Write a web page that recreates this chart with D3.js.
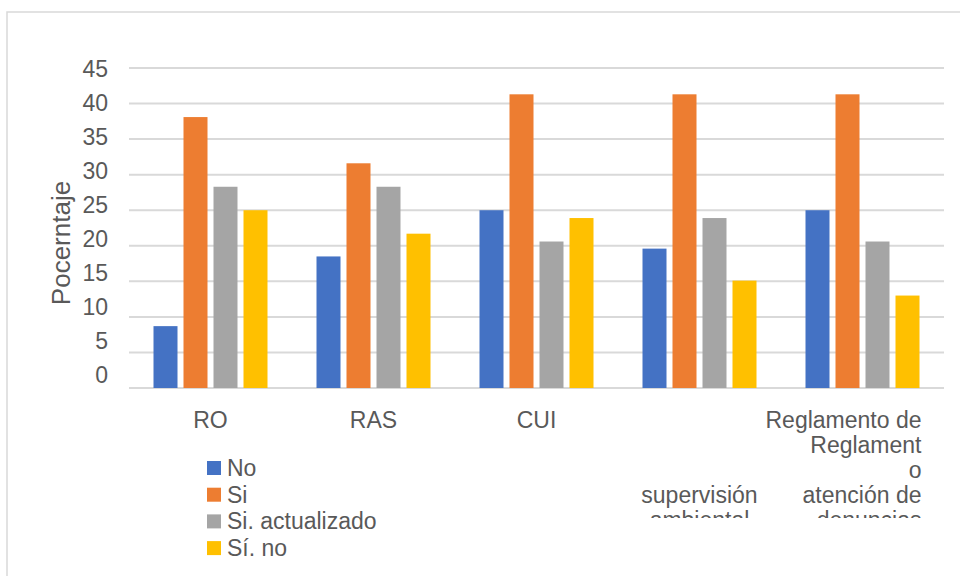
<!DOCTYPE html>
<html>
<head>
<meta charset="utf-8">
<script src="https://cdn.jsdelivr.net/npm/d3@7"></script>
<style>
  body { margin: 0; background: #fff; }
  text { font-family: "Liberation Sans", Arial, sans-serif; fill: #595959; }
</style>
</head>
<body>
<svg id="chart" width="960" height="576"></svg>
<script>
// data
const categories = ["RO", "RAS", "CUI", "supervisión ambiental", "Reglamento de atención de denuncias"];
const categoryLines = [
  ["RO"],
  ["RAS"],
  ["CUI"],
  ["", "", "", "supervisión", "ambiental"],
  ["Reglamento de", "Reglament", "o", "atención de", "denuncias"]
];
const seriesNames = ["No", "Si", "Si. actualizado", "Sí. no"];
const seriesNo = [8.7, 18.5, 25, 19.6, 25];
const seriesSi = [38.1, 31.6, 41.3, 41.3, 41.3];
const seriesActualizado = [28.3, 28.3, 20.6, 23.9, 20.6];
const seriesSiNo = [25, 21.7, 23.9, 15.1, 13];
const yTicks = [0, 5, 10, 15, 20, 25, 30, 35, 40, 45];
const colors = ["#4472C4", "#ED7D31", "#A5A5A5", "#FFC000"];

const values = [seriesNo, seriesSi, seriesActualizado, seriesSiNo];
const rows = categories.map((c, i) => ({
  cat: c,
  vals: seriesNames.map((s, j) => ({ key: s, value: values[j][i] }))
}));

const svg = d3.select("#chart");

// card border
svg.append("rect")
  .attr("x", 7).attr("y", 12)
  .attr("width", 980).attr("height", 600)
  .attr("fill", "none")
  .attr("stroke", "#d9d9d9")
  .attr("stroke-width", 1.5);

const x0 = d3.scaleBand().domain(categories).range([129, 944]).padding(0);
const x1 = d3.scaleBand().domain(seriesNames)
  .range([24.5, x0.bandwidth() - 24.5])
  .paddingInner(0.2);
const y = d3.scaleLinear().domain([0, 45]).range([388, 68]);
// tick labels sit slightly tighter than the gridlines in the original
const yLab = d3.scaleLinear().domain([0, 45]).range([375, 69]);

// gridlines
svg.append("g")
  .selectAll("line")
  .data(yTicks)
  .join("line")
  .attr("x1", 129).attr("x2", 944)
  .attr("y1", d => y(d)).attr("y2", d => y(d))
  .attr("stroke", "#d9d9d9")
  .attr("stroke-width", 2);

// y labels
const yAxis = svg.append("g")
  .attr("transform", "translate(110,0)")
  .call(d3.axisLeft(yLab).tickValues(yTicks).tickSize(0).tickPadding(2));
yAxis.select(".domain").remove();
yAxis.selectAll("text")
  .attr("font-size", 23)
  .attr("fill", "#595959")
  .style("font-family", "'Liberation Sans', Arial, sans-serif");

svg.append("text")
  .attr("transform", "translate(70,243) rotate(-90)")
  .attr("text-anchor", "middle")
  .attr("font-size", 26)
  .text("Pocerntaje");

// bars
const group = svg.append("g")
  .selectAll("g")
  .data(rows)
  .join("g")
  .attr("transform", d => `translate(${x0(d.cat)},0)`);

group.selectAll("rect")
  .data(d => d.vals)
  .join("rect")
  .attr("x", d => x1(d.key))
  .attr("width", x1.bandwidth())
  .attr("y", d => y(d.value))
  .attr("height", d => y(0) - y(d.value))
  .attr("fill", (d, i) => colors[i]);

// category labels, clipped at the bottom like the original
svg.append("clipPath").attr("id", "labclip")
  .append("rect").attr("x", 0).attr("y", 0).attr("width", 960).attr("height", 518);

const labels = svg.append("g").attr("clip-path", "url(#labclip)");
categoryLines.forEach((lines, i) => {
  const last = i === categories.length - 1;
  const cx = x0(categories[i]) + x0.bandwidth() / 2;
  const t = labels.append("text")
    .attr("font-size", 23)
    .attr("text-anchor", last ? "end" : "middle");
  lines.forEach((ln, k) => {
    t.append("tspan")
      .attr("x", last ? cx + 59 : cx)
      .attr("y", 428 + k * 25)
      .text(ln);
  });
});

// legend
const legend = svg.append("g")
  .selectAll("g")
  .data(seriesNames)
  .join("g")
  .attr("transform", (d, i) => `translate(207,${461 + i * 26.7})`);

legend.append("rect")
  .attr("width", 14).attr("height", 14)
  .attr("fill", (d, i) => colors[i]);

legend.append("text")
  .attr("x", 20).attr("y", 15)
  .attr("font-size", 23)
  .text(d => d);
</script>
</body>
</html>
